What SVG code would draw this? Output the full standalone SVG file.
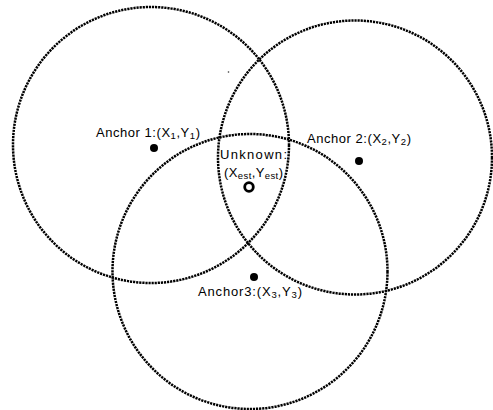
<svg xmlns="http://www.w3.org/2000/svg" width="493" height="410" viewBox="0 0 493 410">
<style>
.ring{fill:none;stroke:#000;stroke-width:2.5;stroke-dasharray:2.2 0.9}
.dot{fill:#000}
.lbl{font-family:"Liberation Sans",Arial,sans-serif;font-size:13px;fill:#000}
.sub{font-size:9.5px}
</style>
<rect width="493" height="410" fill="#fff"/>
<g id="connectors">
<circle class="ring" cx="151" cy="145" r="138"/>
<circle class="ring" cx="355" cy="157.5" r="137"/>
<circle class="ring" cx="250" cy="271.5" r="137.5"/>
</g>
<g id="anchor1">
<circle class="dot" cx="154" cy="148" r="4"/>
<text class="lbl" x="96" y="137" textLength="104" lengthAdjust="spacing">Anchor 1:(X<tspan class="sub" dy="2">1</tspan><tspan dy="-2">,Y</tspan><tspan class="sub" dy="2">1</tspan><tspan dy="-2">)</tspan></text>
</g>
<g id="anchor2">
<circle class="dot" cx="359" cy="161" r="4"/>
<text class="lbl" x="307" y="143" textLength="104" lengthAdjust="spacing">Anchor 2:(X<tspan class="sub" dy="2">2</tspan><tspan dy="-2">,Y</tspan><tspan class="sub" dy="2">2</tspan><tspan dy="-2">)</tspan></text>
</g>
<g id="anchor3">
<circle class="dot" cx="254" cy="277" r="4"/>
<text class="lbl" x="198" y="296" textLength="104" lengthAdjust="spacing">Anchor3:(X<tspan class="sub" dy="2">3</tspan><tspan dy="-2">,Y</tspan><tspan class="sub" dy="2">3</tspan><tspan dy="-2">)</tspan></text>
</g>
<g id="unknown">
<circle cx="249" cy="187" r="4.3" fill="#fff" stroke="#000" stroke-width="2.8"/>
<text class="lbl" x="220" y="159" textLength="67" lengthAdjust="spacing">Unknown:</text>
<text class="lbl" x="224" y="177" textLength="59" lengthAdjust="spacing">(X<tspan class="sub" dy="2">est</tspan><tspan dy="-2">,Y</tspan><tspan class="sub" dy="2">est</tspan><tspan dy="-2">)</tspan></text>
</g>
<circle cx="228.5" cy="72" r="0.8" fill="#333"/>
</svg>
